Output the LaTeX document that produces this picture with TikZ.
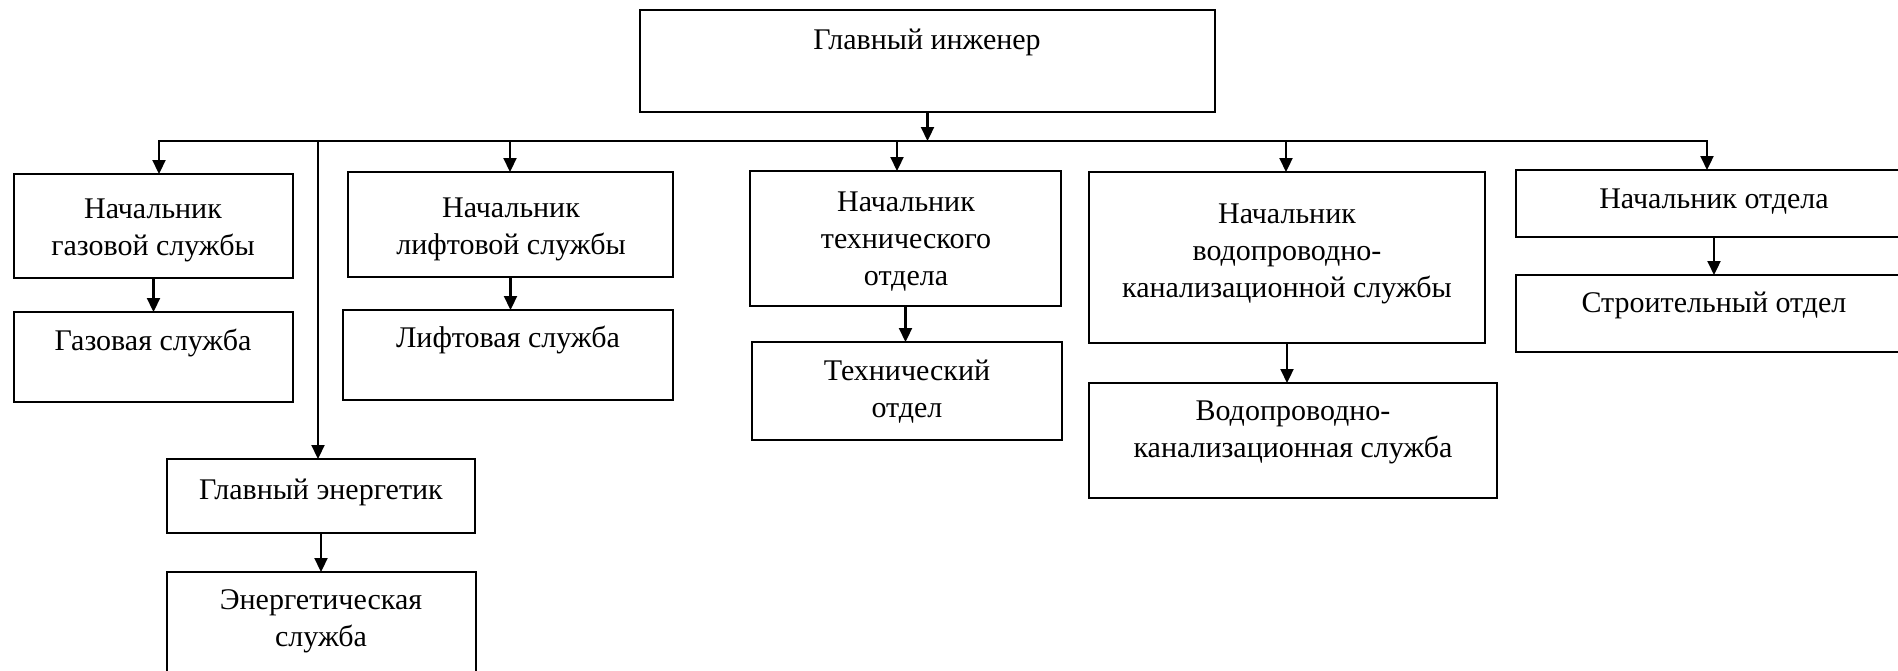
\documentclass[tikz,border=0pt]{standalone}
\usepackage{fontspec}
\setmainfont{Liberation Serif}
\usetikzlibrary{arrows.meta}
\begin{document}
\begin{tikzpicture}[x=1pt,y=-1pt,
  box/.style={draw,line width=2.2pt,inner sep=0pt,outer sep=0pt,anchor=north west},
  lbl/.style={align=center,font=\fontsize{30pt}{37pt}\selectfont,inner sep=0pt},
  arr/.style={line width=2.2pt,-{Triangle[length=14pt,width=13pt]}},
  busline/.style={line width=2.2pt,line cap=rect}]
\useasboundingbox (0,0) rectangle (1898,670);
\fill[white] (0,0) rectangle (1898,670);
\clip (0,0) rectangle (1898,670);
% boxes
\node[box,minimum width=575pt,minimum height=102pt] (tp) at (640,10) {};
\node[box,minimum width=279pt,minimum height=104pt] (gc) at (14,174) {};
\node[box,minimum width=279pt,minimum height=90pt]  (gs) at (14,312) {};
\node[box,minimum width=325pt,minimum height=105pt] (lc) at (348,172) {};
\node[box,minimum width=330pt,minimum height=90pt]  (ls) at (343,310) {};
\node[box,minimum width=311pt,minimum height=135pt] (tc) at (750,171) {};
\node[box,minimum width=310pt,minimum height=98pt]  (ts) at (752,342) {};
\node[box,minimum width=396pt,minimum height=171pt] (wc) at (1089,172) {};
\node[box,minimum width=408pt,minimum height=115pt] (ws) at (1089,383) {};
\node[box,minimum width=396pt,minimum height=67pt]  (oc) at (1516,170) {};
\node[box,minimum width=396pt,minimum height=77pt]  (so) at (1516,275) {};
\node[box,minimum width=308pt,minimum height=74pt]  (ge) at (167,459) {};
\node[box,minimum width=309pt,minimum height=120pt] (es) at (167,572) {};
% texts
\node[lbl] (tpT) at (927,42) {Главный инженер};
\node[lbl] (gcT) at (153,230) {Начальник\\газовой службы};
\node[lbl] (gsT) at (153,343) {Газовая служба};
\node[lbl] (lcT) at (511,229) {Начальник\\лифтовой службы};
\node[lbl] (lsT) at (508,340) {Лифтовая служба};
\node[lbl] (tcT) at (906,242) {Начальник\\технического\\отдела};
\node[lbl] (tsT) at (907,392) {Технический\\отдел};
\node[lbl] (wcT) at (1287,254) {Начальник\\водопроводно-\\канализационной службы};
\node[lbl] (wsT) at (1293,432) {Водопроводно-\\канализационная служба};
\node[lbl] (ocT) at (1714,202) {Начальник отдела};
\node[lbl] (soT) at (1714,305) {Строительный отдел};
\node[lbl] (geT) at (321,492) {Главный энергетик};
\node[lbl] (esT) at (321,621) {Энергетическая\\служба};
% bus junctions
\coordinate (jG) at (159,141);
\coordinate (jE) at (318,141);
\coordinate (jL) at (510,141);
\coordinate (jT) at (897,141);
\coordinate (jW) at (1286,141);
\coordinate (jO) at (1707,141);
\draw[busline] (jG) -- (jO);
\draw[arr] (tp.south) -- (tp.south |- jG);
\draw[arr] (jG) -- (jG |- gc.north);
\draw[arr] (jE) -- (jE |- ge.north);
\draw[arr] (jL) -- (jL |- lc.north);
\draw[arr] (jT) -- (jT |- tc.north);
\draw[arr] (jW) -- (jW |- wc.north);
\draw[arr] (jO) -- (jO |- oc.north);
% sub arrows
\draw[arr] (gc.south) -- (gc.south |- gs.north);
\draw[arr] (lc.south) -- (lc.south |- ls.north);
\draw[arr] (tc.south) -- (tc.south |- ts.north);
\draw[arr] (wc.south) -- (wc.south |- ws.north);
\draw[arr] (oc.south) -- (oc.south |- so.north);
\draw[arr] (ge.south) -- (ge.south |- es.north);
\end{tikzpicture}
\end{document}
